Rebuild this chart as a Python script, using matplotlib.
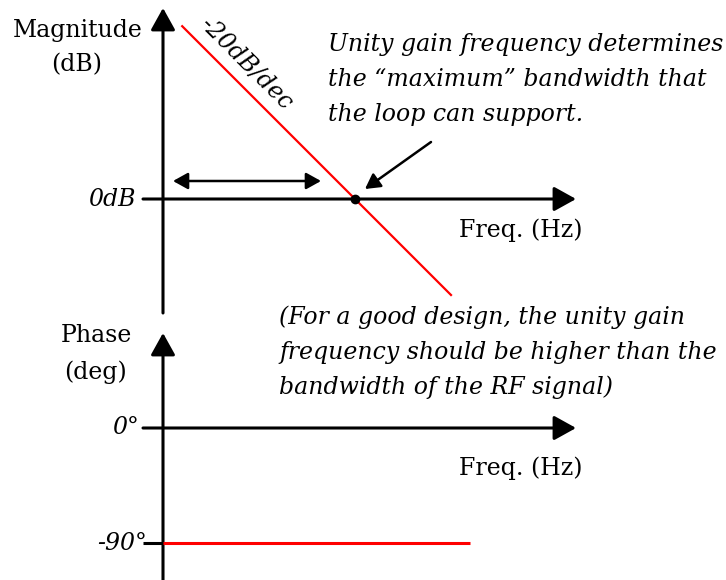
import matplotlib
matplotlib.use('Agg')
import matplotlib.pyplot as plt

# ---- data (Bode diagram, log frequency) ----
mag_freq_hz = [1.585, 1000.0]
mag_db = [36.0, -20.0]
unity_freq_hz = [100.0]
unity_mag_db = [0.0]
phase_freq_hz = [1.0, 1585.0]
phase_deg = [-90.0, -90.0]

# ---- layout (pixels) ----
W, H = 726, 580
X0 = 163          # pixel x of f = 1 Hz (vertical axes)
PX_PER_DEC = 96
MAG_Y0 = 199      # pixel y of 0 dB
PX_PER_20DB = 96
PH_Y0 = 428       # pixel y of 0 deg
PX_PER_90 = 115

SERIF = 'DejaVu Serif'
RED = '#ff0000'

fig = plt.figure(figsize=(W / 100, H / 100), dpi=100)

# overlay in pixel coordinates for decoration and text
ov = fig.add_axes([0, 0, 1, 1])
ov.set_xlim(0, W)
ov.set_ylim(H, 0)
ov.axis('off')

xlim = (10 ** (-X0 / PX_PER_DEC), 10 ** ((W - X0) / PX_PER_DEC))

ax_mag = fig.add_axes([0, 0, 1, 1])
ax_mag.set_xscale('log')
ax_mag.set_xlim(*xlim)
ax_mag.set_ylim(-(H - MAG_Y0) * 20 / PX_PER_20DB, MAG_Y0 * 20 / PX_PER_20DB)
ax_mag.axis('off')
ax_mag.patch.set_visible(False)
ax_mag.set_zorder(3)

ax_ph = fig.add_axes([0, 0, 1, 1])
ax_ph.set_xscale('log')
ax_ph.set_xlim(*xlim)
ax_ph.set_ylim(-(H - PH_Y0) * 90 / PX_PER_90, PH_Y0 * 90 / PX_PER_90)
ax_ph.axis('off')
ax_ph.patch.set_visible(False)
ax_ph.set_zorder(2)

LW_AX = 2.2


def arrow(p_tail, p_tip, style='-|>', ms=15, hl=0.9, hw=0.5, lw=LW_AX):
    ov.annotate('', xy=p_tip, xytext=p_tail,
                arrowprops=dict(arrowstyle=f'{style},head_length={hl},head_width={hw}',
                                lw=lw, color='black', mutation_scale=ms,
                                shrinkA=0, shrinkB=0))


# magnitude axes
arrow((X0, 313), (X0, 8))
arrow((143, MAG_Y0), (576, MAG_Y0))
# phase axes
arrow((X0, H), (X0, 333))
arrow((143, PH_Y0), (576, PH_Y0))
ov.plot([143, X0], [543, 543], color='black', lw=LW_AX, solid_capstyle='butt')

# bandwidth double arrow
arrow((173, 181), (321, 181), style='<|-|>', ms=10, hl=0.9, hw=0.5, lw=1.8)
# pointer to unity gain point
arrow((431, 142), (365, 189), ms=10, hl=0.9, hw=0.5, lw=1.8)

# data marks
ax_mag.plot(mag_freq_hz, mag_db, color=RED, lw=1.6)
ax_mag.plot(unity_freq_hz, unity_mag_db, 'o', color='black', ms=6)
ax_ph.plot(phase_freq_hz, phase_deg, color=RED, lw=2.2, solid_capstyle='butt')

# text
FS = 17
ov.text(143, 30, 'Magnitude', ha='right', va='center', fontsize=FS, family=SERIF)
ov.text(77, 65, '(dB)', ha='center', va='center', fontsize=FS, family=SERIF)
ov.text(136, 200, '0dB', ha='right', va='center', fontsize=FS, family=SERIF, style='italic')
ov.text(96, 335, 'Phase', ha='center', va='center', fontsize=FS, family=SERIF)
ov.text(96, 372, '(deg)', ha='center', va='center', fontsize=FS, family=SERIF)
ov.text(139, 427, '0°', ha='right', va='center', fontsize=FS, family=SERIF, style='italic')
ov.text(147, 543, '-90°', ha='right', va='center', fontsize=FS, family=SERIF, style='italic')
ov.text(521, 230, 'Freq. (Hz)', ha='center', va='center', fontsize=FS, family=SERIF)
ov.text(521, 468, 'Freq. (Hz)', ha='center', va='center', fontsize=FS, family=SERIF)
ov.text(246, 64, '-20dB/dec', ha='center', va='center', fontsize=FS, family=SERIF,
        style='italic', rotation=-45, rotation_mode='anchor')

top_lines = ['Unity gain frequency determines',
             'the \u201cmaximum\u201d bandwidth that',
             'the loop can support.']
for i, s in enumerate(top_lines):
    ov.text(328, 45 + 35 * i, s, ha='left', va='center', fontsize=FS, family=SERIF, style='italic')

bot_lines = ['(For a good design, the unity gain',
             'frequency should be higher than the',
             'bandwidth of the RF signal)']
for i, s in enumerate(bot_lines):
    ov.text(279, 317 + 35 * i, s, ha='left', va='center', fontsize=FS, family=SERIF, style='italic')

fig.savefig('out.png', dpi=100)
